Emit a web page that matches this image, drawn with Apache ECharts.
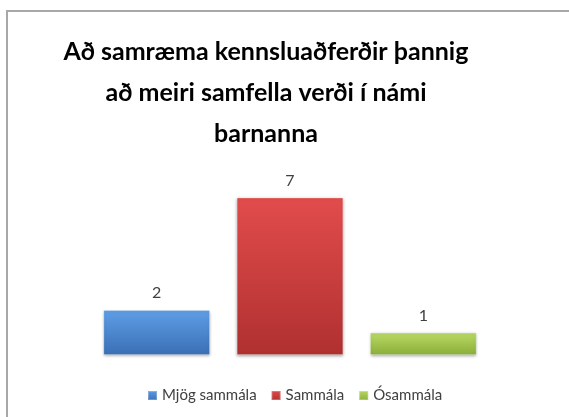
<!DOCTYPE html>
<html>
<head>
<meta charset="utf-8">
<script src="https://cdn.jsdelivr.net/npm/echarts@6/dist/echarts.min.js"></script>
<style>
html, body { margin: 0; padding: 0; background: #fff; }
#chart { width: 569px; height: 417px; }
</style>
</head>
<body>
<div id="chart"></div>
<script>
// gögnin
var categories = ['Mjög sammála', 'Sammála', 'Ósammála'];
var values = [2, 7, 1];
var titleText = 'Að samræma kennsluaðferðir þannig\nað meiri samfella verði í námi\nbarnanna';

// litir: [efst, neðst]
var barColors = [
	['#5f9ee6', '#3a6fb4'],
	['#e24c4c', '#b03030'],
	['#bada66', '#8aae38']
];
var legendColors = ['#3d75c0', '#c23a3a', '#9bc04a'];

var chart = echarts.init(document.getElementById('chart'));

var series = [];
for (var i = 0; i < categories.length; i++) {
	// hver flokkur sín röð svo legend sýni öll þrjú
	var d = [];
	for (var j = 0; j < categories.length; j++) {
		d.push(j == i ? values[j] : '-');
	}
	series.push({
		name: categories[i],
		type: 'bar',
		stack: 'all',
		barCategoryGap: '20%',
		data: d,
		itemStyle: {
			color: new echarts.graphic.LinearGradient(0, 0, 0, 1, [
				{offset: 0, color: barColors[i][0]},
				{offset: 1, color: barColors[i][1]}
			]),
			borderColor: 'rgba(255,255,255,0.25)',
			borderWidth: 1,
			shadowColor: 'rgba(0,0,0,0.35)',
			shadowBlur: 3,
			shadowOffsetY: 1
		},
		label: {
			show: true,
			position: 'top',
			distance: 9,
			fontFamily: 'Lato',
			fontSize: 16,
			color: '#404040'
		}
	});
}

var opt = {
	backgroundColor: '#fff',
	animation: false,
	color: legendColors,
	title: {
		text: titleText,
		// ekki alveg í miðju, hliðrað til vinstri
		left: 266,
		textAlign: 'center',
		top: 31,
		padding: 0,
		textStyle: {
			fontFamily: 'Lato',
			fontWeight: 'bold',
			fontSize: 25,
			lineHeight: 41,
			color: '#000'
		}
	},
	graphic: [{
		type: 'rect',
		silent: true,
		shape: {x: 7, y: 11, width: 620, height: 480},
		style: {fill: 'none', stroke: '#a8a8a8', lineWidth: 2}
	}],
	legend: {
		bottom: 14,
		left: 147,
		padding: 0,
		icon: 'rect',
		itemWidth: 9,
		itemHeight: 9,
		itemGap: 14,
		textStyle: {fontFamily: 'Lato', fontSize: 15, color: '#404040'},
		data: categories
	},
	grid: {left: 90, right: 79, top: 175, bottom: 62},
	xAxis: {
		type: 'category',
		data: categories,
		show: false
	},
	yAxis: {
		type: 'value',
		min: 0,
		max: 8,
		show: false
	},
	series: series
};
chart.setOption(opt);
</script>
</body>
</html>
